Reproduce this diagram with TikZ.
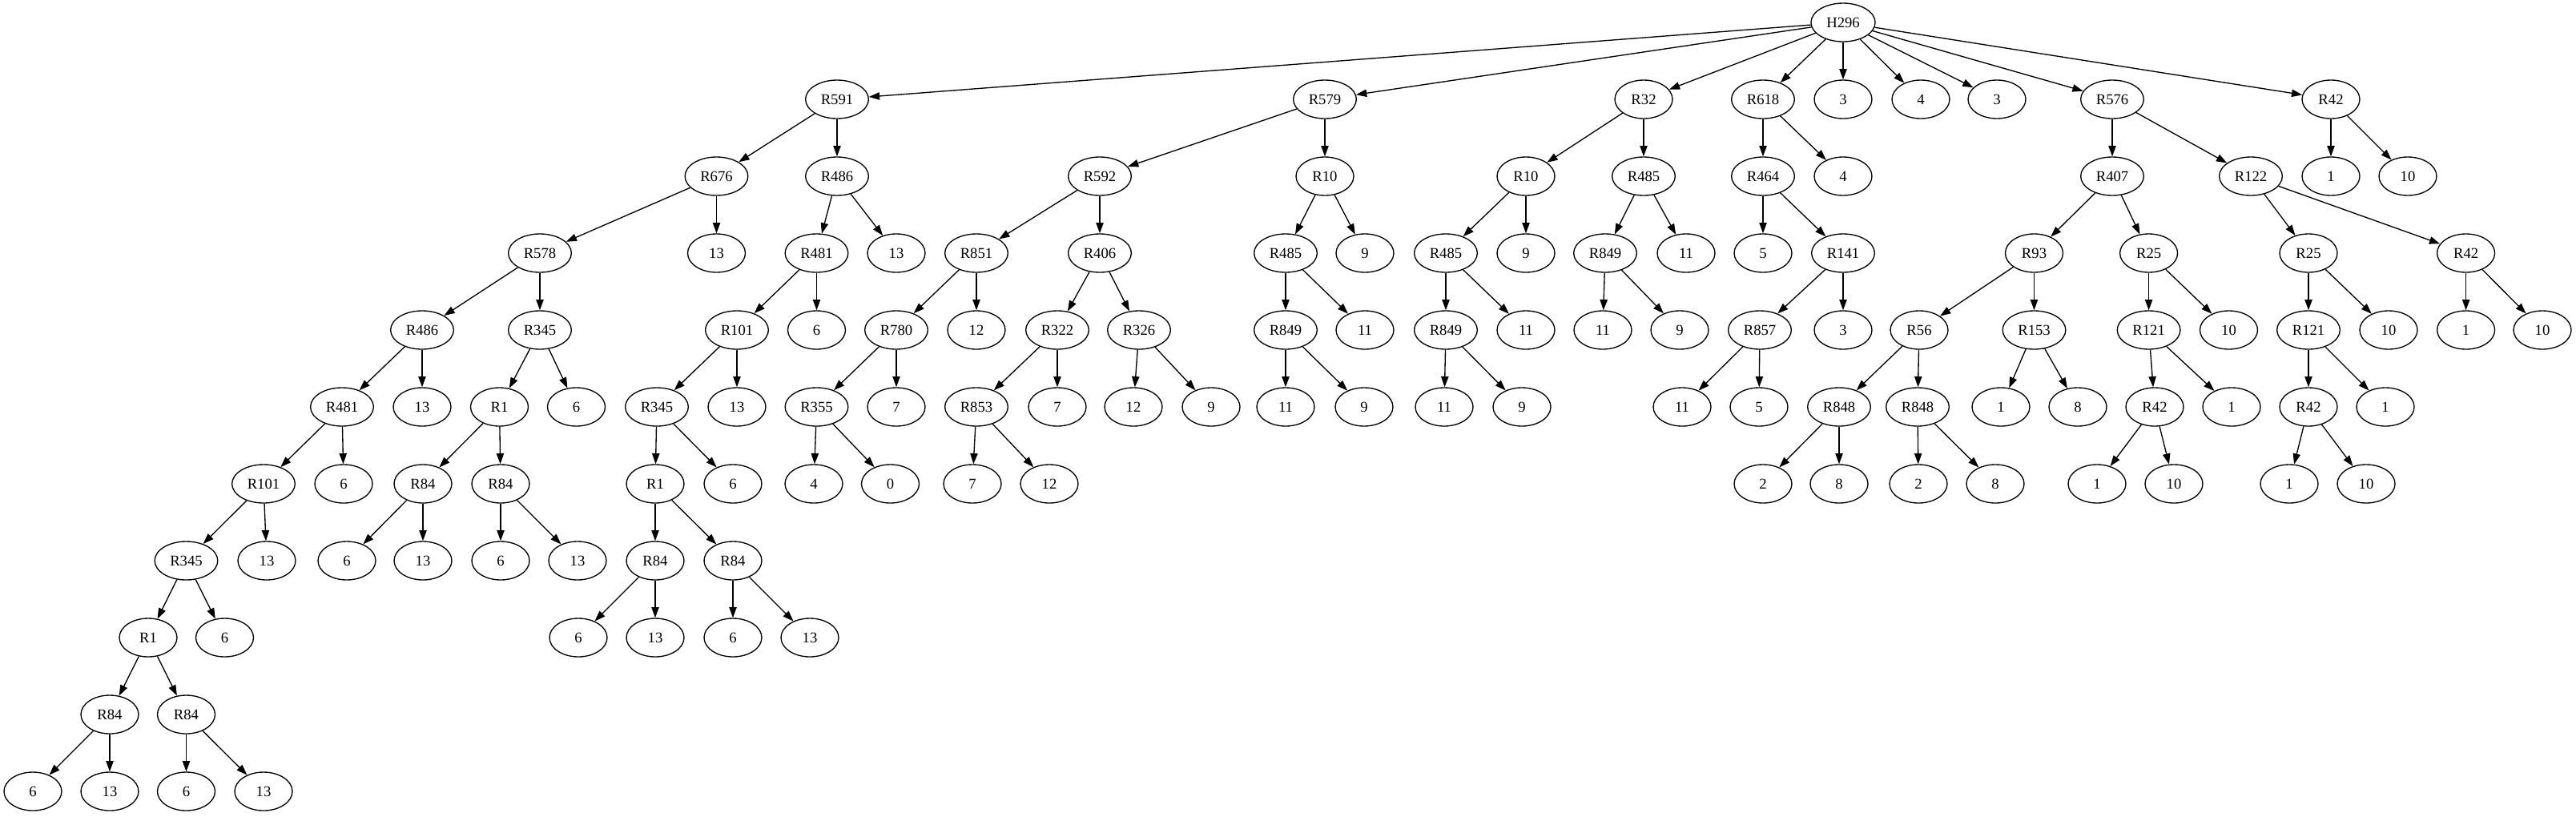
\documentclass[tikz,border=0pt]{standalone}
\usepackage{fontspec}
\setmainfont{Liberation Serif}
\usetikzlibrary{shapes.geometric,arrows.meta}
\tikzset{
vert/.style={
	  draw, ellipse, line width=1pt, minimum width=54pt,
	  minimum height=36pt, inner xsep=5.7pt, inner ysep=0pt,
	  font=\fontsize{14}{16}\selectfont},
link/.style={line width=1pt, -{Triangle[length=10pt,width=7pt]}}
}

\begin{document}
\begin{tikzpicture}[x=0.75pt, y=-72pt]
	\useasboundingbox (0,-0.2917) rectangle (3216,10.3229);
	\node[vert] (h) at (2301,0) {H296};
	% first subtree
	\node[vert] (h1) at (1045,1) {R591};
	\node[vert] (h11) at (894.5,2) {R676};
	\node[vert] (h111) at (674,3) {R578};
	\node[vert] (h1111) at (527,4) {R486};
	\node[vert] (h11111) at (427,5) {R481};
	\node[vert] (h111111) at (329,6) {R101};
	\node[vert] (h1111111) at (232.5,7) {R345};
	\node[vert] (h11111111) at (185,8) {R1};
	\node[vert] (h111111111) at (137,9) {R84};
	\node[vert] (h1111111111) at (41,10) {6};
	\node[vert] (h1111111112) at (137,10) {13};
	\node[vert] (h111111112) at (232.5,9) {R84};
	\node[vert] (h1111111121) at (232.5,10) {6};
	\node[vert] (h1111111122) at (329,10) {13};
	\node[vert] (h11111112) at (280.5,8) {6};
	\node[vert] (h1111112) at (333,7) {13};
	\node[vert] (h111112) at (429,6) {6};
	\node[vert] (h11112) at (527,5) {13};
	\node[vert] (h1112) at (674,4) {R345};
	\node[vert] (h11121) at (623.5,5) {R1};
	\node[vert] (h111211) at (528,6) {R84};
	\node[vert] (h1112111) at (433,7) {6};
	\node[vert] (h1112112) at (528,7) {13};
	\node[vert] (h111212) at (625,6) {R84};
	\node[vert] (h1112121) at (625,7) {6};
	\node[vert] (h1112122) at (721,7) {13};
	\node[vert] (h11122) at (719.5,5) {6};
	\node[vert] (h112) at (894.5,3) {13};
	\node[vert] (h12) at (1045,2) {R486};
	\node[vert] (h121) at (1019.5,3) {R481};
	\node[vert] (h1211) at (920,4) {R101};
	\node[vert] (h12111) at (820,5) {R345};
	\node[vert] (h121111) at (818,6) {R1};
	\node[vert] (h1211111) at (818,7) {R84};
	\node[vert] (h12111111) at (722,8) {6};
	\node[vert] (h12111112) at (818,8) {13};
	\node[vert] (h1211112) at (915,7) {R84};
	\node[vert] (h12111121) at (915,8) {6};
	\node[vert] (h12111122) at (1011,8) {13};
	\node[vert] (h121112) at (915,6) {6};
	\node[vert] (h12112) at (920,5) {13};
	\node[vert] (h1212) at (1019.5,4) {6};
	\node[vert] (h122) at (1119,3) {13};
	% second subtree
	\node[vert] (h2) at (1654,1) {R579};
	\node[vert] (h21) at (1373,2) {R592};
	\node[vert] (h211) at (1219,3) {R851};
	\node[vert] (h2111) at (1119,4) {R780};
	\node[vert] (h21111) at (1019.5,5) {R355};
	\node[vert] (h211111) at (1016,6) {4};
	\node[vert] (h211112) at (1111.5,6) {0};
	\node[vert] (h21112) at (1119,5) {7};
	\node[vert] (h2112) at (1219,4) {12};
	\node[vert] (h212) at (1373,3) {R406};
	\node[vert] (h2121) at (1320,4) {R322};
	\node[vert] (h21211) at (1219,5) {R853};
	\node[vert] (h212111) at (1214,6) {7};
	\node[vert] (h212112) at (1310,6) {12};
	\node[vert] (h21212) at (1320,5) {7};
	\node[vert] (h2122) at (1422,4) {R326};
	\node[vert] (h21221) at (1415,5) {12};
	\node[vert] (h21222) at (1512,5) {9};
	\node[vert] (h22) at (1654,2) {R10};
	\node[vert] (h221) at (1605,3) {R485};
	\node[vert] (h2211) at (1605,4) {R849};
	\node[vert] (h22111) at (1605,5) {11};
	\node[vert] (h22112) at (1703,5) {9};
	\node[vert] (h2212) at (1704,4) {11};
	\node[vert] (h222) at (1704,3) {9};
	% third and fourth subtrees
	\node[vert] (h3) at (2052,1) {R32};
	\node[vert] (h31) at (1905,2) {R10};
	\node[vert] (h311) at (1805,3) {R485};
	\node[vert] (h3111) at (1805,4) {R849};
	\node[vert] (h31111) at (1803,5) {11};
	\node[vert] (h31112) at (1900,5) {9};
	\node[vert] (h3112) at (1905,4) {11};
	\node[vert] (h312) at (1905,3) {9};
	\node[vert] (h32) at (2052,2) {R485};
	\node[vert] (h321) at (2004,3) {R849};
	\node[vert] (h3211) at (2001,4) {11};
	\node[vert] (h3212) at (2097,4) {9};
	\node[vert] (h322) at (2105,3) {11};
	\node[vert] (h4) at (2201,1) {R618};
	\node[vert] (h41) at (2201,2) {R464};
	\node[vert] (h411) at (2201,3) {5};
	\node[vert] (h412) at (2301,3) {R141};
	\node[vert] (h4121) at (2197,4) {R857};
	\node[vert] (h41211) at (2100,5) {11};
	\node[vert] (h41212) at (2196,5) {5};
	\node[vert] (h4122) at (2301,4) {3};
	\node[vert] (h42) at (2301,2) {4};
	\node[vert] (h5) at (2301,1) {3};
	\node[vert] (h6) at (2398,1) {4};
	\node[vert] (h7) at (2493,1) {3};
	% last subtrees
	\node[vert] (h8) at (2637,1) {R576};
	\node[vert] (h81) at (2637,2) {R407};
	\node[vert] (h811) at (2539.5,3) {R93};
	\node[vert] (h8111) at (2396,4) {R56};
	\node[vert] (h81111) at (2296,5) {R848};
	\node[vert] (h811111) at (2201,6) {2};
	\node[vert] (h811112) at (2296,6) {8};
	\node[vert] (h81112) at (2394,5) {R848};
	\node[vert] (h811121) at (2395,6) {2};
	\node[vert] (h811122) at (2491,6) {8};
	\node[vert] (h8112) at (2539.5,4) {R153};
	\node[vert] (h81121) at (2498,5) {1};
	\node[vert] (h81122) at (2594,5) {8};
	\node[vert] (h812) at (2682.6,3) {R25};
	\node[vert] (h8121) at (2682.6,4) {R121};
	\node[vert] (h81211) at (2690,5) {R42};
	\node[vert] (h812111) at (2618,6) {1};
	\node[vert] (h812112) at (2714,6) {10};
	\node[vert] (h81212) at (2786,5) {1};
	\node[vert] (h8122) at (2782.5,4) {10};
	\node[vert] (h82) at (2810,2) {R122};
	\node[vert] (h821) at (2882,3) {R25};
	\node[vert] (h8211) at (2882,4) {R121};
	\node[vert] (h82111) at (2882,5) {R42};
	\node[vert] (h821111) at (2858,6) {1};
	\node[vert] (h821112) at (2954,6) {10};
	\node[vert] (h82112) at (2978,5) {1};
	\node[vert] (h8212) at (2982,4) {10};
	\node[vert] (h822) at (3078.6,3) {R42};
	\node[vert] (h8221) at (3078.6,4) {1};
	\node[vert] (h8222) at (3174,4) {10};
	\node[vert] (h9) at (2910,1) {R42};
	\node[vert] (h91) at (2910,2) {1};
	\node[vert] (h92) at (3006,2) {10};
	% edges
	\foreach \a/\b in {h/h1, h/h2, h/h3, h/h4, h/h5, h/h6, h/h7, h/h8, h/h9,
		h1/h11, h11/h111, h111/h1111, h1111/h11111, h11111/h111111,
		h111111/h1111111, h1111111/h11111111, h11111111/h111111111,
		h111111111/h1111111111, h111111111/h1111111112,
		h11111111/h111111112, h111111112/h1111111121, h111111112/h1111111122,
		h1111111/h11111112, h111111/h1111112, h11111/h111112, h1111/h11112,
		h111/h1112, h1112/h11121, h11121/h111211, h111211/h1112111,
		h111211/h1112112, h11121/h111212, h111212/h1112121, h111212/h1112122,
		h1112/h11122, h11/h112, h1/h12, h12/h121, h121/h1211, h1211/h12111,
		h12111/h121111, h121111/h1211111, h1211111/h12111111,
		h1211111/h12111112, h121111/h1211112, h1211112/h12111121,
		h1211112/h12111122, h12111/h121112, h1211/h12112, h121/h1212,
		h12/h122,
		h2/h21, h21/h211, h211/h2111, h2111/h21111, h21111/h211111,
		h21111/h211112, h2111/h21112, h211/h2112, h21/h212, h212/h2121,
		h2121/h21211, h21211/h212111, h21211/h212112, h2121/h21212,
		h212/h2122, h2122/h21221, h2122/h21222, h2/h22, h22/h221,
		h221/h2211, h2211/h22111, h2211/h22112, h221/h2212, h22/h222,
		h3/h31, h31/h311, h311/h3111, h3111/h31111, h3111/h31112,
		h311/h3112, h31/h312, h3/h32, h32/h321, h321/h3211, h321/h3212,
		h32/h322,
		h4/h41, h41/h411, h41/h412, h412/h4121, h4121/h41211, h4121/h41212,
		h412/h4122, h4/h42,
		h8/h81, h81/h811, h811/h8111, h8111/h81111, h81111/h811111,
		h81111/h811112, h8111/h81112, h81112/h811121, h81112/h811122,
		h811/h8112, h8112/h81121, h8112/h81122, h81/h812, h812/h8121,
		h8121/h81211, h81211/h812111, h81211/h812112, h8121/h81212,
		h812/h8122, h8/h82, h82/h821, h821/h8211, h8211/h82111,
		h82111/h821111, h82111/h821112, h8211/h82112, h821/h8212,
		h82/h822, h822/h8221, h822/h8222,
		h9/h91, h9/h92}
		\draw[link] (\a) -- (\b);
\end{tikzpicture}
\end{document}
